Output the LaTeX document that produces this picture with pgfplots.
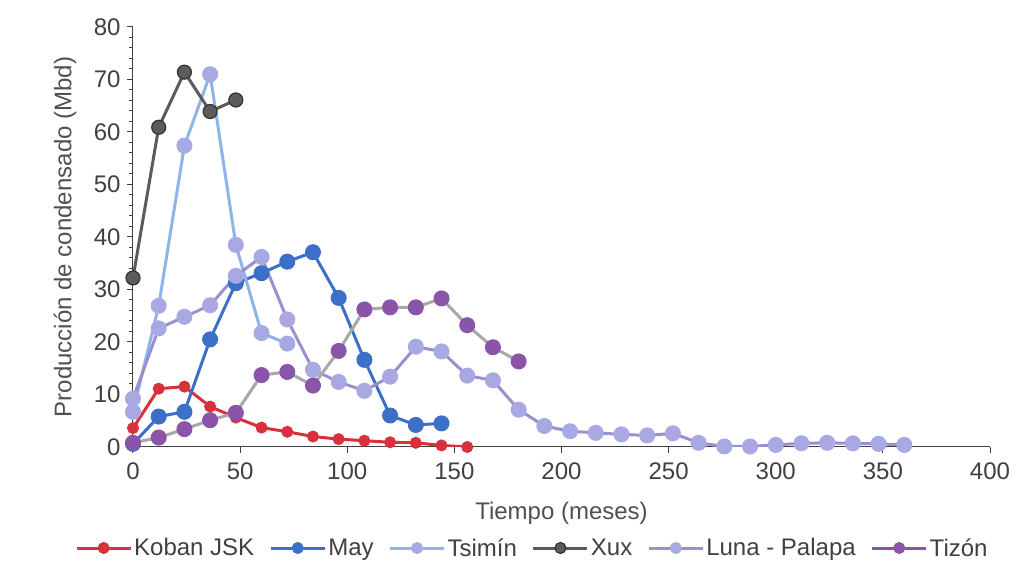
\documentclass[border=0pt]{standalone}
\usepackage{pgfplots}
\pgfplotsset{compat=1.18}
\usepackage{fontspec}
\setmainfont{Liberation Sans}
\definecolor{koban}{HTML}{D9303E}
\definecolor{may}{HTML}{3B6FC8}
\definecolor{tsiline}{HTML}{8DB5E8}
\definecolor{lav}{HTML}{A8A8E2}
\definecolor{xux}{HTML}{5A5C5A}
\definecolor{xuxedge}{HTML}{333333}
\definecolor{lunaline}{HTML}{9B8FD0}
\definecolor{tizon}{HTML}{8A55A8}
\definecolor{tizonline}{HTML}{A8A8A8}
\definecolor{axisgray}{HTML}{404040}
\definecolor{textgray}{HTML}{404040}
\definecolor{labelgray}{HTML}{505050}
\begin{document}
\begin{tikzpicture}[x=1pt,y=1pt]
\path[use as bounding box, fill=white] (-133,-125) rectangle (902,447);
\begin{axis}[
  at={(0,0)}, anchor=south west, scale only axis,
  width=857pt, height=420pt,
  xmin=0, xmax=400, ymin=0, ymax=80,
  axis x line*=bottom, axis y line*=left,
  axis line style={draw=axisgray, line width=1pt},
  xtick={0,50,...,400}, ytick={0,10,...,80},
  minor y tick num=4,
  tick align=outside,
  major tick length=6pt, minor tick length=4pt,
  tick style={draw=axisgray, line width=1pt},
  /pgf/number format/assume math mode=true,
  tick label style={font=\fontsize{24}{24}\selectfont, text=textgray},
  xticklabel style={yshift=-6pt},
  yticklabel style={xshift=-3pt},
  xlabel={Tiempo (meses)},
  ylabel={Producción de condensado (Mbd)},
  every axis y label/.style={at={(axis description cs:-0.0793,0.5)}, rotate=90, anchor=center, font=\fontsize{24}{24}\selectfont, text=labelgray},
  every axis x label/.style={at={(axis description cs:0.5,-0.157)}, anchor=center, font=\fontsize{24}{24}\selectfont, text=labelgray},
  legend style={at={(axis description cs:0.466,-0.2405)}, anchor=center, draw=none, fill=none,
    font=\fontsize{24}{24}\selectfont, text=textgray,
    /tikz/every odd column/.append style={column sep=0pt},
    /tikz/every even column/.append style={column sep=13pt},
    nodes={inner xsep=2pt}},
  legend columns=6,
  legend image code/.code={\draw[mark repeat=2,mark phase=2,#1,mark size=5.5pt] plot coordinates {(0pt,0pt) (27pt,0pt) (54pt,0pt)};},
]
\addplot[color=koban, line width=3pt, mark=*, mark size=5.5pt, mark options={fill=koban, draw=koban, line width=1pt}] coordinates {
(0,3.6) (12,11.1) (24,11.5) (36,7.7) (48,5.6) (60,3.7) (72,2.9) (84,2.0) (96,1.5) (108,1.2) (120,0.9) (132,0.8) (144,0.3) (156,0.0)};
\addlegendentry{Koban JSK}
\addplot[color=may, line width=3pt, mark=*, mark size=7.5pt, mark options={fill=may, draw=may, line width=1pt}] coordinates {
(0,0.6) (12,5.8) (24,6.7) (36,20.5) (48,31.2) (60,33.1) (72,35.3) (84,37.1) (96,28.4) (108,16.6) (120,6.0) (132,4.2) (144,4.5)};
\addlegendentry{May}
\addplot[color=tsiline, line width=3pt, mark=*, mark size=7.5pt, mark options={fill=lav, draw=lav, line width=1pt}] coordinates {
(0,6.7) (12,26.9) (24,57.4) (36,71.0) (48,38.5) (60,21.7) (72,19.7)};
\addlegendentry{Tsimín}
\addplot[color=xux, line width=3pt, mark=*, mark size=7pt, mark options={fill=xux, draw=xuxedge, line width=1.2pt}] coordinates {
(0,32.2) (12,60.9) (24,71.4) (36,63.9) (48,66.1)};
\addlegendentry{Xux}
\addplot[color=lunaline, line width=3pt, mark=*, mark size=7.5pt, mark options={fill=lav, draw=lav, line width=1pt}] coordinates {
(0,9.2) (12,22.6) (24,24.8) (36,27.0) (48,32.6) (60,36.2) (72,24.3) (84,14.7) (96,12.4) (108,10.7) (120,13.4) (132,19.1) (144,18.2) (156,13.6) (168,12.7) (180,7.1) (192,4.0) (204,3.0) (216,2.7) (228,2.4) (240,2.2) (252,2.6) (264,0.8) (276,0.1) (288,0.1) (300,0.4) (312,0.7) (324,0.8) (336,0.7) (348,0.6) (360,0.4)};
\addlegendentry{Luna - Palapa}
\addplot[color=tizonline, line width=3pt, mark=*, mark size=7.5pt, mark options={fill=tizon, draw=tizon, line width=1pt}, legend image post style={draw=tizon}] coordinates {
(0,0.8) (12,1.8) (24,3.4) (36,5.1) (48,6.5) (60,13.7) (72,14.3) (84,11.7) (96,18.3) (108,26.2) (120,26.6) (132,26.6) (144,28.3) (156,23.2) (168,19.0) (180,16.3)};
\addlegendentry{Tizón}
\end{axis}
\end{tikzpicture}
\end{document}
